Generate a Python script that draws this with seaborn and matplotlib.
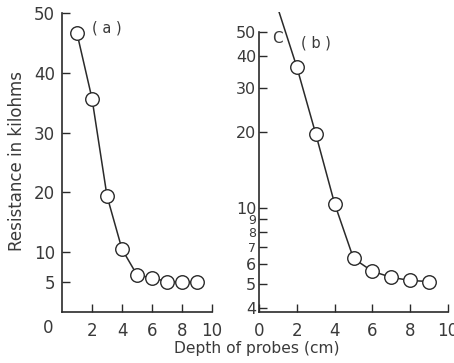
import matplotlib
matplotlib.use("Agg")
import matplotlib.pyplot as plt
import matplotlib.transforms as mtransforms
import seaborn as sns
from matplotlib.ticker import FixedLocator, FixedFormatter, NullLocator

# ---- data ----
depth = [1, 2, 3, 4, 5, 6, 7, 8, 9]
resistance_a = [46.6, 35.7, 19.4, 10.5, 6.2, 5.7, 5.1, 5.0, 5.0]

depth_b = [2, 3, 4, 5, 6, 7, 8, 9]
resistance_b = [36.3, 19.7, 10.4, 6.3, 5.6, 5.3, 5.15, 5.1]
curve_b_depth = [1, 2, 3, 4, 5, 6, 7, 8, 9]
curve_b_res = [62, 36.3, 19.7, 10.4, 6.3, 5.6, 5.3, 5.15, 5.1]

xticks_a = [2, 4, 6, 8, 10]
xticks_b = [0, 2, 4, 6, 8, 10]
yticks_a = [5, 10, 20, 30, 40, 50]
yticks_b = [4, 5, 6, 7, 8, 9, 10, 20, 30, 40, 50]
ylabels_b = ["4", "5", "6", "7", "8", "9", "10", "20", "30", "40", "50"]

sns.set_theme(style="white")
plt.rcParams['font.family'] = ['DejaVu Sans']
ink = '#2a2a2a'
txt = '#3a3a3a'

fig = plt.figure(figsize=(4.54, 3.63), dpi=100)
W, H = 454, 363
ax1 = fig.add_axes([62 / W, 51 / H, 150 / W, 299 / H])
ax2 = fig.add_axes([259 / W, 51 / H, 189 / W, 300 / H])

# ---- panel (a) ----
sns.lineplot(x=depth, y=resistance_a, ax=ax1, color=ink, lw=1.1)
sns.scatterplot(x=depth, y=resistance_a, ax=ax1, s=95, color='white',
                edgecolor=ink, linewidth=1.0, zorder=3, clip_on=False)
ax1.set_xlim(0, 10)
ax1.set_ylim(0, 50)
ax1.xaxis.set_major_locator(FixedLocator(xticks_a))
ax1.yaxis.set_major_locator(FixedLocator(yticks_a))
blend1 = mtransforms.blended_transform_factory(ax1.transData, ax1.transAxes)
ax1.text(-0.9, -0.055, "0", transform=blend1,
         fontsize=12, color=txt, ha='center', va='center')
ax1.text(3.0, 47.5, "( a )", fontsize=10.5, color=txt, ha='center', va='center')

# ---- panel (b) ----
ax2.set_yscale('log')
sns.lineplot(x=curve_b_depth, y=curve_b_res, ax=ax2, color=ink, lw=1.1)
sns.scatterplot(x=depth_b, y=resistance_b, ax=ax2, s=95, color='white',
                edgecolor=ink, linewidth=1.0, zorder=3)
ax2.set_xlim(0, 10)
ax2.set_ylim(3.86, 60)
ax2.xaxis.set_major_locator(FixedLocator(xticks_b))
ax2.yaxis.set_major_locator(FixedLocator(yticks_b))
ax2.yaxis.set_major_formatter(FixedFormatter(ylabels_b))
ax2.yaxis.set_minor_locator(NullLocator())
ax2.spines['left'].set_bounds(3.86, 50)
ax2.text(3.0, 45, "( b )", fontsize=10.5, color=txt, ha='center', va='center')
ax2.text(0.95, 47, "C", fontsize=11, color=txt, ha='center', va='center')

for ax, ypad in ((ax1, 5), (ax2, 2)):
    for s in ('top', 'right'):
        ax.spines[s].set_visible(False)
    for s in ('left', 'bottom'):
        ax.spines[s].set_color(ink)
        ax.spines[s].set_linewidth(1.2)
    ax.tick_params(axis='both', direction='in', length=6, width=1.0,
                   color=ink, labelcolor=txt, labelsize=12)
    ax.tick_params(axis='x', pad=7, bottom=True)
    ax.tick_params(axis='y', pad=ypad, left=True)
    ax.set_xlabel("")
    ax.set_ylabel("")
    ax.grid(False)
    ax.patch.set_alpha(0)

ax2.tick_params(axis='y', labelsize=11.5)
for lab, val in zip(ax2.get_yticklabels(), yticks_b):
    if val in (7, 8, 9):
        lab.set_fontsize(9)

fig.text(17 / W, (H - 161) / H, "Resistance in kilohms", rotation=90,
         fontsize=12, color=txt, ha='center', va='center')
fig.text(257 / W, (H - 348) / H, "Depth of probes (cm)",
         fontsize=11.2, color=txt, ha='center', va='center')

fig.savefig("out.png", dpi=100, facecolor='white')
